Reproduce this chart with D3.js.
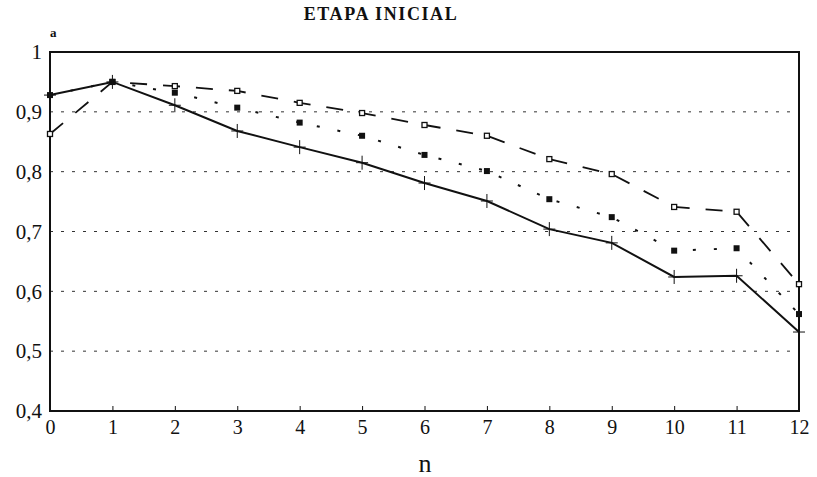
<!DOCTYPE html>
<html><head><meta charset="utf-8">
<script src="https://cdn.jsdelivr.net/npm/d3@7"></script>
<style>body{margin:0;background:#fff}svg{display:block}</style>
</head><body>
<script>
const nValues = [0,1,2,3,4,5,6,7,8,9,10,11,12];
const solidCross = [0.928,0.950,0.911,0.868,0.841,0.815,0.781,0.751,0.704,0.681,0.624,0.626,0.532];
const dottedFilled = [0.928,0.950,0.932,0.907,0.882,0.860,0.828,0.801,0.754,0.724,0.668,0.672,0.562];
const dashedOpen = [0.863,0.950,0.943,0.935,0.915,0.898,0.878,0.860,0.821,0.796,0.741,0.733,0.612];
const yTicks = [0.4,0.5,0.6,0.7,0.8,0.9,1];
const gridTicks = [0.5,0.6,0.7,0.8,0.9];
const titleText = "ETAPA INICIAL";
const yLabel = "a";
const xLabel = "n";

const W=817,H=477;
const m={left:50,right:18,top:52,bottom:66};
const svg=d3.select("body").append("svg").attr("width",W).attr("height",H);
const x=d3.scaleLinear().domain([0,12]).range([m.left,W-m.right]);
const y=d3.scaleLinear().domain([0.4,1]).range([H-m.bottom,m.top]);
const serif="'Liberation Serif', 'Times New Roman', serif";

// grid
svg.append("g").selectAll("line").data(gridTicks).join("line")
  .attr("x1",x(0)).attr("x2",x(12)).attr("y1",d=>y(d)).attr("y2",d=>y(d))
  .attr("stroke","#333").attr("stroke-width",1).attr("stroke-dasharray","3,8");

// frame
svg.append("rect").attr("x",x(0)).attr("y",y(1)).attr("width",x(12)-x(0)).attr("height",y(0.4)-y(1))
  .attr("fill","none").attr("stroke","#111").attr("stroke-width",2);

// x axis
const xAxis=d3.axisBottom(x).tickValues(nValues).tickSizeInner(-5).tickSizeOuter(0).tickPadding(9).tickFormat(d3.format("d"));
const gx=svg.append("g").attr("transform",`translate(0,${y(0.4)})`).call(xAxis);
gx.select(".domain").remove();
gx.selectAll(".tick line").attr("stroke","#111");
gx.selectAll("text").attr("font-family",serif).attr("font-size",20).attr("fill","#111");

// y axis
const yAxis=d3.axisLeft(y).tickValues(yTicks).tickSize(0).tickPadding(8).tickFormat(d=>d===1?"1":d3.format(".1f")(d).replace(".",","));
const gy=svg.append("g").attr("transform",`translate(${x(0)},0)`).call(yAxis);
gy.select(".domain").remove();
gy.selectAll("text").attr("font-family",serif).attr("font-size",21).attr("fill","#111");

const line=d3.line().x((d,i)=>x(nValues[i])).y(d=>y(d));

// dashed open squares
svg.append("path").datum(dashedOpen).attr("d",line).attr("fill","none")
  .attr("stroke","#111").attr("stroke-width",1.8).attr("stroke-dasharray","17,16");
svg.append("g").selectAll("rect").data(dashedOpen).join("rect")
  .attr("x",(d,i)=>x(nValues[i])-2.5).attr("y",d=>y(d)-2.5).attr("width",5).attr("height",5)
  .attr("fill","#fff").attr("stroke","#111").attr("stroke-width",1.3);

// dotted filled squares
svg.append("path").datum(dottedFilled).attr("d",line).attr("fill","none")
  .attr("stroke","#111").attr("stroke-width",2).attr("stroke-dasharray","3,18");
svg.append("g").selectAll("rect").data(dottedFilled).join("rect")
  .attr("x",(d,i)=>x(nValues[i])-3).attr("y",d=>y(d)-3).attr("width",6).attr("height",6)
  .attr("fill","#111");

// solid crosses
svg.append("path").datum(solidCross).attr("d",line).attr("fill","none")
  .attr("stroke","#111").attr("stroke-width",2);
const cr=svg.append("g").selectAll("g").data(solidCross).join("g")
  .attr("transform",(d,i)=>`translate(${x(nValues[i])},${y(d)})`);
cr.append("line").attr("x1",-6).attr("x2",6).attr("stroke","#111").attr("stroke-width",1);
cr.append("line").attr("y1",-7).attr("y2",7).attr("stroke","#111").attr("stroke-width",1);

// labels
svg.append("text").attr("x",381).attr("y",20).attr("text-anchor","middle")
  .attr("font-family",serif).attr("font-size",18).attr("letter-spacing",1.6).attr("font-weight","bold").attr("fill","#111").text(titleText);
svg.append("text").attr("x",50).attr("y",37).attr("font-family",serif).attr("font-size",13)
  .attr("font-weight","bold").attr("fill","#111").text(yLabel);
svg.append("text").attr("x",425).attr("y",472).attr("text-anchor","middle")
  .attr("font-family",serif).attr("font-size",26).attr("fill","#111").text(xLabel);
</script>
</body></html>
